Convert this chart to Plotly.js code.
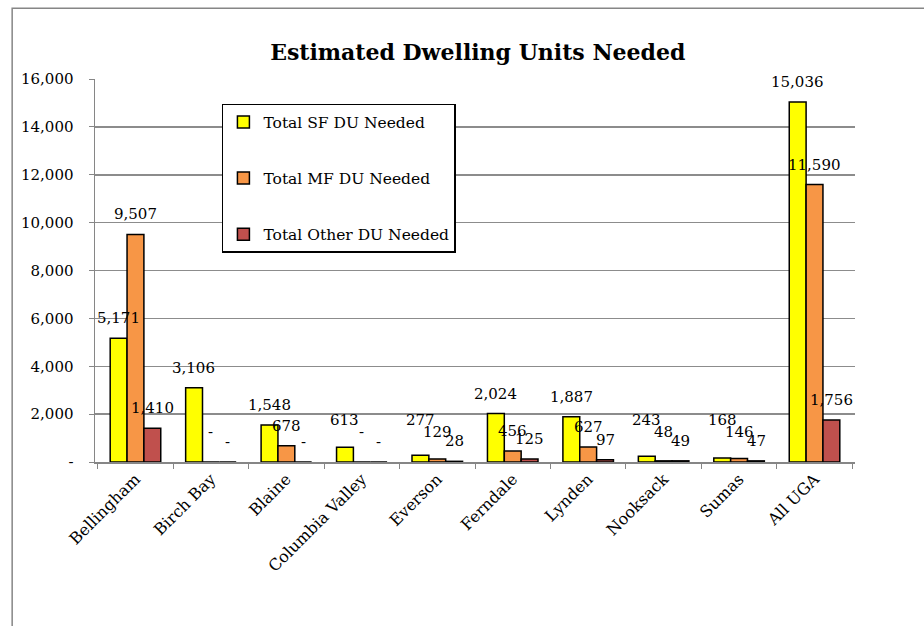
<!DOCTYPE html>
<html>
<head>
<meta charset="utf-8">
<script src="https://cdn.plot.ly/plotly-3.0.1.min.js"></script>
<style>html,body{margin:0;padding:0;background:#fff;}#chart{width:924px;height:626px;}</style>
</head>
<body>
<div id="chart"></div>
<script>
const categories = ["Bellingham","Birch Bay","Blaine","Columbia Valley","Everson","Ferndale","Lynden","Nooksack","Sumas","All UGA"];
const sfNeeded = [5171, 3106, 1548, 613, 277, 2024, 1887, 243, 168, 15036];
const mfNeeded = [9507, 0, 678, 0, 129, 456, 627, 48, 146, 11590];
const otherNeeded = [1410, 0, 0, 0, 28, 125, 97, 49, 47, 1756];
const seriesNames = ["Total SF DU Needed","Total MF DU Needed","Total Other DU Needed"];
const yTickVals = [0, 2000, 4000, 6000, 8000, 10000, 12000, 14000, 16000];
const yTickText = ["-", "2,000", "4,000", "6,000", "8,000", "10,000", "12,000", "14,000", "16,000"];

const colors = ["#FFFF00", "#F79646", "#C0504D"];
const fmt = v => v === 0 ? "-" : v.toLocaleString("en-US");
const FONT = "DejaVu Serif";

const W = 924, H = 626;
const M = {l: 95, r: 69, t: 79, b: 164};
const BARGAP = 0.33;
const YMAX = 16000;
const plotW = W - M.l - M.r, plotH = H - M.t - M.b;
const barPx = plotW / categories.length * (1 - BARGAP) / 3;

const allSeries = [sfNeeded, mfNeeded, otherNeeded];
// labels sit above each bar; small bars get a per-series minimum label height (staggered like the original)
const labelFloor = [900, 420, 0];

const traces = allSeries.map((vals, i) => ({
  type: "bar",
  name: seriesNames[i],
  x: categories,
  y: vals,
  marker: {color: colors[i], line: {color: "#000", width: 1.5}},
  legendgroup: "g" + i,
  hoverinfo: "x+y"
}));

const annotations = [];
allSeries.forEach((vals, i) => {
  vals.forEach((v, j) => {
    annotations.push({
      x: categories[j], y: Math.max(v, labelFloor[i]), xref: "x", yref: "y",
      text: fmt(v), showarrow: false,
      xshift: (i - 1) * barPx, yshift: 20, yanchor: "middle", xanchor: "center",
      font: {family: FONT, size: 15, color: "#000"}
    });
  });
});

const layout = {
  width: W, height: H,
  margin: M,
  paper_bgcolor: "#fff", plot_bgcolor: "#fff",
  barmode: "group",
  bargap: BARGAP, bargroupgap: 0,
  title: {text: "<b>Estimated Dwelling Units Needed</b>", font: {family: FONT, size: 22, color: "#000"},
          x: 0.517, xanchor: "center", y: 0.917, yanchor: "middle", xref: "container", yref: "container"},
  xaxis: {
    type: "category", tickson: "boundaries", ticks: "outside", ticklen: 5, tickcolor: "#868686",
    showline: true, linecolor: "#868686", linewidth: 1.5, showgrid: false,
    tickangle: -45, tickfont: {family: FONT, size: 16, color: "#000"}
  },
  yaxis: {
    range: [0, YMAX], tickvals: yTickVals, ticktext: yTickText,
    ticks: "outside", ticklen: 5, tickcolor: "#868686", ticklabelstandoff: 12,
    showline: true, linecolor: "#868686", linewidth: 1.5,
    showgrid: true, gridcolor: "#8c8c8c", gridwidth: 1.5, zeroline: false,
    tickfont: {family: FONT, size: 15, color: "#000"}
  },
  showlegend: true,
  legend: {x: 0.167, xanchor: "left", y: 0.935, yanchor: "top",
           bgcolor: "#fff", bordercolor: "#000", borderwidth: 1.5,
           font: {family: FONT, size: 15.5, color: "#000"},
           tracegroupgap: 33, traceorder: "grouped", itemwidth: 30},
  annotations: annotations,
  shapes: [{type: "rect", xref: "paper", yref: "paper", x0: -0.109, x1: 1.3, y0: -0.6, y1: 1.185,
            line: {color: "#868686", width: 1.5}, fillcolor: "rgba(0,0,0,0)", layer: "below"}]
};

Plotly.newPlot("chart", traces, layout, {displayModeBar: false, staticPlot: true});
</script>
</body>
</html>
